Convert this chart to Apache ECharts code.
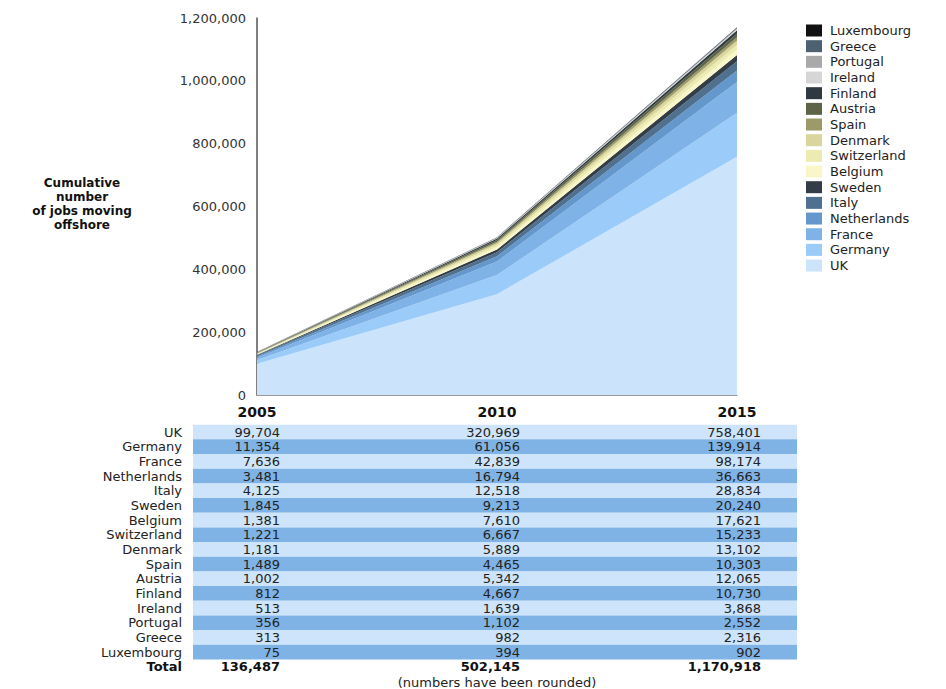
<!DOCTYPE html>
<html>
<head>
<meta charset="utf-8">
<script src="https://cdn.jsdelivr.net/npm/echarts@6/dist/echarts.min.js"></script>
<style>
  html, body { margin: 0; padding: 0; background: #fff; }
  #chart { width: 946px; height: 689px; }
</style>
</head>
<body>
<div id="chart"></div>
<script>
var years = ['2005', '2010', '2015'];
var countries = ['UK', 'Germany', 'France', 'Netherlands', 'Italy', 'Sweden', 'Belgium', 'Switzerland',
  'Denmark', 'Spain', 'Austria', 'Finland', 'Ireland', 'Portugal', 'Greece', 'Luxembourg'];
var v2005 = [99704, 11354, 7636, 3481, 4125, 1845, 1381, 1221, 1181, 1489, 1002, 812, 513, 356, 313, 75];
var v2010 = [320969, 61056, 42839, 16794, 12518, 9213, 7610, 6667, 5889, 4465, 5342, 4667, 1639, 1102, 982, 394];
var v2015 = [758401, 139914, 98174, 36663, 28834, 20240, 17621, 15233, 13102, 10303, 12065, 10730, 3868, 2552, 2316, 902];
var totals = [136487, 502145, 1170918];
var yTicks = [0, 200000, 400000, 600000, 800000, 1000000, 1200000];

// colours for each country (same order as countries)
var colors = ['#cce4fb', '#9bcbf8', '#7fb2e6', '#6497cc', '#50708f', '#333d47', '#f9f7c9', '#ecebb2',
  '#d9d59c', '#9b9a68', '#5e6448', '#2f3a40', '#d6d6d6', '#a9a9a9', '#4d6172', '#111111'];

var myChart = echarts.init(document.getElementById('chart'), null, { renderer: 'svg' });

var fmt = function (n) { return n.toLocaleString('en-US'); };
var FONT = 'DejaVu Sans';

var series = countries.map(function (c, i) {
  return {
    name: c,
    type: 'line',
    stack: 'jobs',
    symbol: 'none',
    lineStyle: { width: 0 },
    areaStyle: { color: colors[i], opacity: 1 },
    itemStyle: { color: colors[i] },
    data: [v2005[i], v2010[i], v2015[i]]
  };
});

// table under the chart
var rowH = 14.67, tableTop = 424.7;
var colX = [280, 520, 761];
var graphics = [];
countries.forEach(function (c, i) {
  var y = tableTop + i * rowH;
  graphics.push({
    type: 'rect', silent: true,
    shape: { x: 193, y: y, width: 604, height: rowH },
    style: { fill: i % 2 === 0 ? '#cde4fa' : '#7fb3e5' }
  });
  graphics.push({
    type: 'text', silent: true, x: 182, y: y + rowH / 2,
    style: { text: c, fill: '#222', font: '13px "' + FONT + '"', align: 'right', verticalAlign: 'middle' }
  });
  [v2005[i], v2010[i], v2015[i]].forEach(function (v, j) {
    graphics.push({
      type: 'text', silent: true, x: colX[j], y: y + rowH / 2,
      style: { text: fmt(v), fill: '#222', font: '13px "' + FONT + '"', align: 'right', verticalAlign: 'middle' }
    });
  });
});
var totalY = tableTop + countries.length * rowH + 7.5;
graphics.push({
  type: 'text', silent: true, x: 182, y: totalY,
  style: { text: 'Total', fill: '#111', font: 'bold 13px "' + FONT + '"', align: 'right', verticalAlign: 'middle' }
});
totals.forEach(function (v, j) {
  graphics.push({
    type: 'text', silent: true, x: colX[j], y: totalY,
    style: { text: fmt(v), fill: '#111', font: 'bold 13px "' + FONT + '"', align: 'right', verticalAlign: 'middle' }
  });
});
graphics.push({
  type: 'text', silent: true, x: 497, y: 682,
  style: { text: '(numbers have been rounded)', fill: '#222', font: '13px "' + FONT + '"', align: 'center', verticalAlign: 'middle' }
});
// y axis title
graphics.push({
  type: 'text', silent: true, x: 82, y: 204,
  style: {
    text: 'Cumulative\nnumber\nof jobs moving\noffshore', fill: '#111',
    font: 'bold 12px "' + FONT + '"', lineHeight: 14, align: 'center', verticalAlign: 'middle'
  }
});

var option = {
  backgroundColor: '#fff',
  animation: false,
  textStyle: { fontFamily: FONT },
  legend: {
    orient: 'vertical',
    left: 801,
    top: 19,
    itemWidth: 16,
    itemHeight: 12,
    itemGap: 2.67,
    icon: 'rect',
    data: countries.slice().reverse(),
    textStyle: { fontSize: 13, color: '#222', lineHeight: 12, padding: [0, 0, 0, 3] }
  },
  grid: { left: 257, right: 209, top: 18, bottom: 294 },
  xAxis: {
    type: 'category',
    boundaryGap: false,
    data: years,
    axisLine: { lineStyle: { color: '#999', width: 1 } },
    axisTick: { show: false },
    axisLabel: { color: '#111', fontWeight: 'bold', fontSize: 14, margin: 10 }
  },
  yAxis: {
    type: 'value',
    min: yTicks[0],
    max: yTicks[yTicks.length - 1],
    interval: yTicks[1] - yTicks[0],
    axisLine: { show: true, lineStyle: { color: '#555', width: 1.5 } },
    axisTick: { show: false },
    splitLine: { show: false },
    axisLabel: { color: '#333', fontSize: 13, margin: 11, formatter: function (v) { return fmt(v); } }
  },
  graphic: graphics,
  series: series
};

myChart.setOption(option);
</script>
</body>
</html>
